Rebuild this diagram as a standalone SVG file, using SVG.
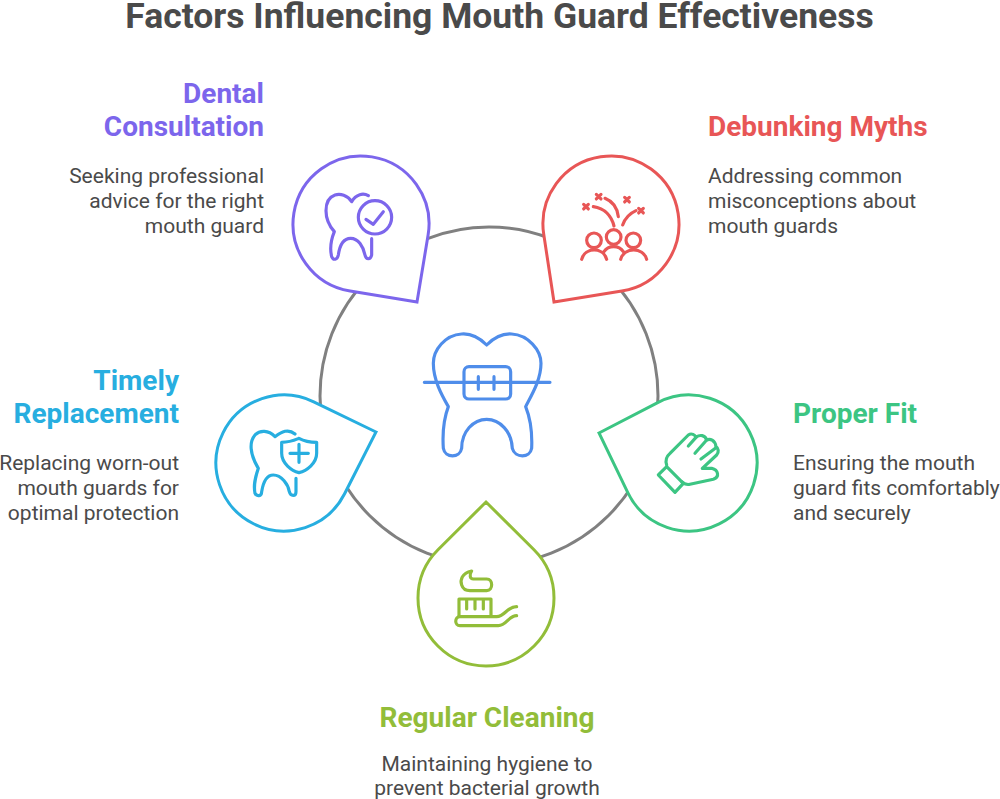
<svg xmlns="http://www.w3.org/2000/svg" width="1000" height="799" viewBox="0 0 1000 799">
<style>
text{font-family:Roboto,"Liberation Sans",sans-serif}
.t{font-size:35.500px;font-weight:700;fill:#4a4a4a}
.h{font-size:28px;font-weight:700}
.b{font-size:21px;fill:#4a4a4a}
.e{text-anchor:end}.m{text-anchor:middle}
.drop{fill:#fff;stroke-width:3;stroke-linejoin:miter}
.ic{fill:none;stroke-width:9.5;stroke-linecap:round;stroke-linejoin:round}
</style>
<rect width="1000" height="799" fill="#fff"/>
<text class="t m" x="499.500" y="28">Factors Influencing Mouth Guard Effectiveness</text>
<g id="connectors"><circle cx="489" cy="396" r="169" fill="none" stroke="#808080" stroke-width="3"/></g>
<g id="center"><g transform="translate(415 320) scale(.3333)" class="ic" stroke="#4f8dea">
<path d="M215 75C190 50 165 40 140 42C90 45 55 90 55 130C55 180 80 225 100 260C85 300 82 340 85 385C90 415 135 415 140 385C140 335 175 298 215 298C255 298 290 335 292 385C300 415 345 415 350 385C352 340 348 300 332 260C350 225 378 180 378 130C378 90 340 45 290 42C265 40 240 50 215 75Z"/>
<rect x="147" y="140" width="140" height="97" rx="15"/>
<path d="M28 187H405M190 170V208M237 170V208"/></g></g>
<g id="dental"><path class="drop" stroke="#7c66ec" d="M417 302L428.100 235.100A68 68 0 1 0 350.100 291.100Z"/>
<g transform="translate(280 140) scale(.3333)" class="ic" stroke="#7c66ec">
<path d="M265 167C250 158 228 162 215 185C203 165 180 160 165 165C145 172 138 190 138 212C138 240 150 260 163 275C153 300 150 330 155 350C160 362 172 360 175 345C180 310 195 295 212 295C235 295 250 320 255 345C258 360 272 360 275 345V296"/>
<circle cx="285" cy="232" r="50"/><path d="M258 238L280 253L310 215"/></g>
<text class="h e" fill="#7c66ec" x="264" y="102.500">Dental</text><text class="h e" fill="#7c66ec" x="264" y="135.500">Consultation</text>
<text class="b e" x="264" y="183">Seeking professional</text><text class="b e" x="264" y="208">advice for the right</text><text class="b e" x="264" y="233">mouth guard</text></g>
<g id="myths"><path class="drop" stroke="#e85656" d="M554 302L543.700 234A68 68 0 1 1 621.800 291.100Z"/>
<g transform="translate(530 140) scale(.3333)" class="ic" stroke="#e85656">
<circle cx="192" cy="301" r="22"/><circle cx="251" cy="291" r="22"/><circle cx="310" cy="301" r="22"/>
<path d="M155 358C165 320 220 320 230 358M272 358C282 320 340 320 350 358M222 335C235 315 267 315 280 335"/>
<path d="M190 200C225 205 245 230 252 258M225 175C250 185 262 205 265 230M278 255C285 235 300 220 318 212"/>
<path d="M161 193L175 207M175 193L161 207M199 163L213 177M213 163L199 177M284 172L298 186M298 172L284 186M326 205L340 219M340 205L326 219"/></g>
<text class="h" fill="#e85656" x="708" y="135.500">Debunking Myths</text>
<text class="b" x="708" y="183">Addressing common</text><text class="b" x="708" y="208">misconceptions about</text><text class="b" x="708" y="233">mouth guards</text></g>
<g id="fit"><path class="drop" stroke="#3cc583" d="M599 433L657.700 402.600A68 68 0 1 1 627.800 492.600Z"/>
<g transform="translate(590 385) scale(.3333)" class="ic" stroke="#3cc583">
<path d="M205 270L230 245L280 295L255 322Z"/>
<path d="M230 240C225 225 232 212 240 205L295 150C305 143 315 150 318 157C330 148 345 150 350 165C360 160 375 165 378 185C385 190 388 200 380 210L337 250L365 250C385 255 390 275 370 283L300 298C290 300 280 295 275 290"/>
<path d="M318 157L295 183M350 165L315 205M378 188L333 222"/></g>
<text class="h" fill="#3cc583" x="793" y="422.500">Proper Fit</text>
<text class="b" x="793" y="470">Ensuring the mouth</text><text class="b" x="793" y="495">guard fits comfortably</text><text class="b" x="793" y="520">and securely</text></g>
<g id="cleaning"><path class="drop" stroke="#92bd39" d="M486 502L534 549.800A68 68 0 1 1 438 549.800Z"/>
<g transform="translate(405 495) scale(.3333)" class="ic" stroke="#92bd39">
<path d="M200 228C170 235 165 255 170 270C175 285 185 287 195 287L245 287C265 287 265 252 245 252L205 252C195 252 192 240 200 228Z"/>
<path d="M162 362V312H258V362M185 315V342M210 315V342M235 315V342"/>
<path d="M335 335C305 335 300 365 275 365H165C148 365 148 392 165 392H280C305 392 310 362 335 362"/></g>
<text class="h m" fill="#92bd39" x="487" y="726.500">Regular Cleaning</text>
<text class="b m" x="487" y="771">Maintaining hygiene to</text><text class="b m" x="487" y="795">prevent bacterial growth</text></g>
<g id="replacement"><path class="drop" stroke="#27aee0" d="M376 432L313.700 401.800A68 68 0 1 0 344.600 493.800Z"/>
<g transform="translate(210 385) scale(.3333)" class="ic" stroke="#27aee0">
<path d="M255 147C235 130 215 140 195 155C175 135 150 135 135 150C118 170 118 205 145 250C135 280 130 300 135 325C140 335 155 335 155 320C160 290 170 270 190 270C215 270 235 300 238 320C242 335 258 335 258 320V280"/>
<path d="M215 172C240 172 255 165 267 160C280 167 300 172 320 172V205C320 235 290 258 267 263C245 258 215 235 215 205Z"/>
<path d="M240 205H295M267 178V232"/></g>
<text class="h e" fill="#27aee0" x="179" y="389.500">Timely</text><text class="h e" fill="#27aee0" x="179" y="422.500">Replacement</text>
<text class="b e" x="179" y="470">Replacing worn-out</text><text class="b e" x="179" y="495">mouth guards for</text><text class="b e" x="179" y="520">optimal protection</text></g>
</svg>
